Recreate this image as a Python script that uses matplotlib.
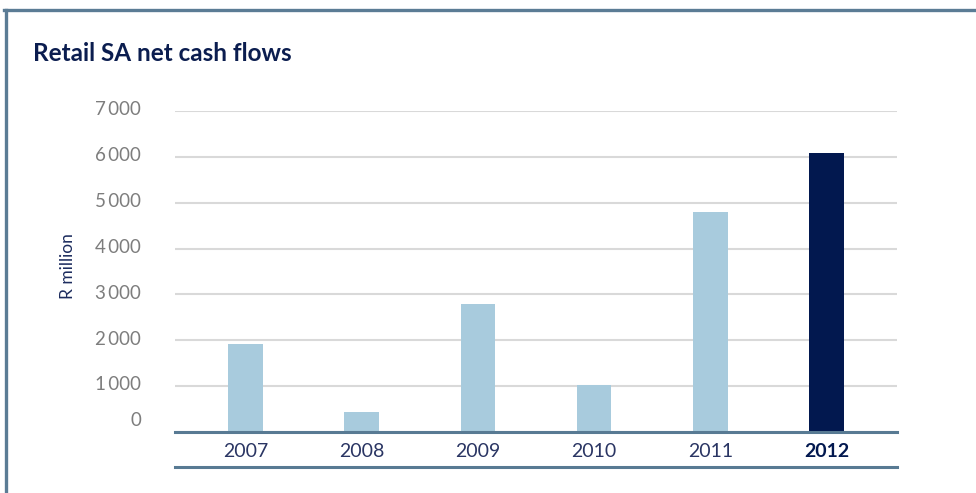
import matplotlib
matplotlib.use("Agg")
import matplotlib.pyplot as plt
from matplotlib.lines import Line2D
from matplotlib.transforms import ScaledTranslation

plt.rcParams['font.family'] = ['Lato', 'DejaVu Sans']

years = ['2007', '2008', '2009', '2010', '2011', '2012']
values = [1920, 430, 2790, 1020, 4800, 6080]
colors = ['#a8cbdd'] * 5 + ['#02184f']
yticks = [0, 1000, 2000, 3000, 4000, 5000, 6000, 7000]
ytick_labels = ['0', '1\u2009000', '2\u2009000', '3\u2009000', '4\u2009000',
                '5\u2009000', '6\u2009000', '7\u2009000']

W, H = 976, 493
fig = plt.figure(figsize=(W / 100, H / 100), dpi=100)
ax = fig.add_axes([175 / W, 1 - 432 / H, (897 - 175) / W, (432 - 111) / H])

x = list(range(len(years)))
ax.bar(x, values, width=0.30, color=colors, zorder=3)
ax.set_xlim(-0.608, 5.608)
ax.set_ylim(0, 7000)

ax.set_yticks(yticks)
ax.set_yticklabels(ytick_labels)
ax.yaxis.grid(True, color='#d9d9d9', linewidth=1.5, zorder=0)
ax.set_axisbelow(True)
for s in ['top', 'right', 'left']:
    ax.spines[s].set_visible(False)
ax.spines['bottom'].set_color('#587a93')
ax.spines['bottom'].set_linewidth(2.2)
ax.spines['bottom'].set_zorder(4)

ax.tick_params(axis='y', length=0, pad=24.5, labelsize=13.5, labelcolor='#7d7d7d')
for lbl in ax.get_yticklabels():
    lbl.set_transform(lbl.get_transform() + ScaledTranslation(0, 2 / 72, fig.dpi_scale_trans))
ax.get_yticklabels()[0].set_transform(
    ax.get_yticklabels()[0].get_transform() + ScaledTranslation(0, 7 / 72, fig.dpi_scale_trans))

ax.set_xticks(x)
ax.set_xticklabels(years)
ax.tick_params(axis='x', length=0, pad=8, labelsize=14, labelcolor='#2a3563')
xl = ax.get_xticklabels()
xl[-1].set_fontweight('bold')
xl[-1].set_color('#02184f')

ax.set_ylabel('R million', color='#1c2c5e', fontsize=12.5)
ax.yaxis.set_label_coords(-(175 - 76) / (897 - 175), (432 - 266) / (432 - 111))

# lower rule under the year labels
ax.add_line(Line2D([0, 1], [-(467 - 432) / (432 - 111)] * 2, transform=ax.transAxes,
                   color='#587a93', linewidth=2.2, clip_on=False))

# frame border on top and left
fig.add_artist(Line2D([5.5 / W, 5.5 / W], [0, 1 - 9.5 / H], transform=fig.transFigure,
                      color='#5b7c95', linewidth=2.4))
fig.add_artist(Line2D([4 / W, 1], [1 - 9.5 / H, 1 - 9.5 / H], transform=fig.transFigure,
                      color='#5b7c95', linewidth=2.4))

fig.text(33 / W, 1 - 61 / H, 'Retail SA net cash flows', fontsize=17.5, fontweight='bold',
         color='#0b1d4f', va='baseline', ha='left')

fig.savefig('out.png', dpi=100)
